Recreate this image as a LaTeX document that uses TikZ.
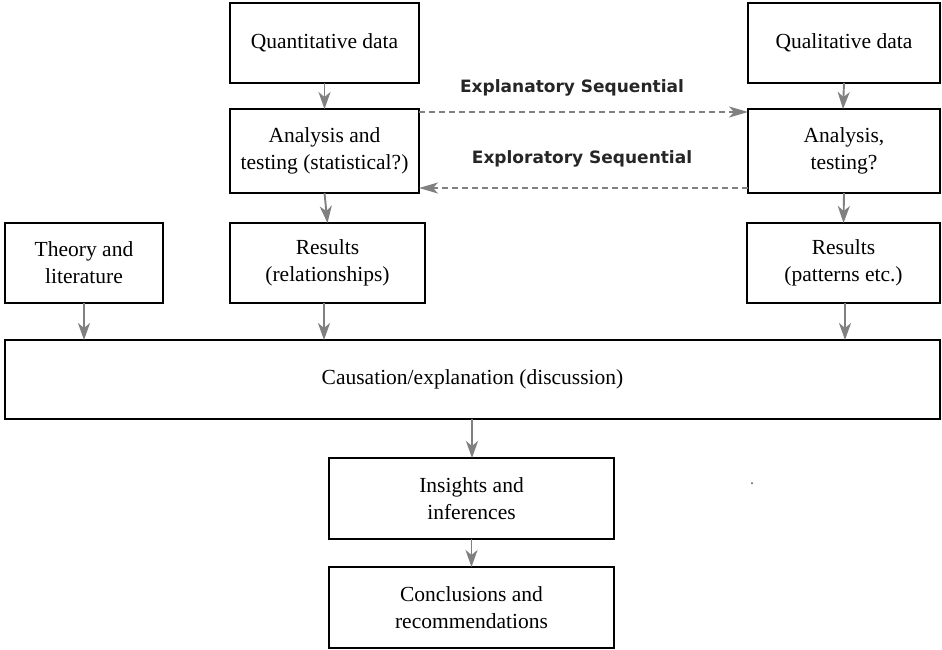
\documentclass[tikz,border=0pt]{standalone}
\usepackage{fontspec}
\setmainfont{Liberation Serif}
\newfontfamily\labelfont{DejaVu Sans}
\usetikzlibrary{arrows.meta}
\begin{document}
\begin{tikzpicture}[x=1pt,y=-1pt,
  flow/.style={draw=gray,line width=1.9pt,-{Stealth[length=17pt,width=12pt,inset=5pt]}},
  seq/.style={draw=gray,line width=1.4pt,dash pattern=on 6pt off 4pt,-{Stealth[length=19pt,width=11pt,inset=5pt]}},
  seqlabel/.style={font=\labelfont\bfseries\fontsize{17}{20}\selectfont,text=black!85}]
\useasboundingbox (0,0) rectangle (942,649);
\fill[white] (0,0) rectangle (942,649);
% boxes drawn as rectangles, with text nodes centred on them
\newcommand\boxat[6]{%
  \draw[line width=1.4pt] (#2,#3) rectangle (#4,#5);
  \node[align=center,font=\fontsize{21.5}{27}\selectfont,inner sep=0pt] (#1) at ({(#2+#4)/2},{(#3+#5)/2}) {#6};
  \coordinate (#1-n) at ({(#2+#4)/2},#3);
  \coordinate (#1-s) at ({(#2+#4)/2},#5);}
\boxat{quant}{230}{3}{419}{83}{Quantitative data}
\boxat{qual}{748}{3}{940}{83}{Qualitative data}
\boxat{anaL}{230}{109}{419}{193}{Analysis and\\testing (statistical?)}
\boxat{anaR}{748}{109}{940}{193}{Analysis,\\testing?}
\boxat{theory}{5}{223}{163}{303}{Theory and\\literature}
\boxat{resL}{230}{223}{425}{303}{Results\\(relationships)}
\boxat{resR}{747}{223}{940}{303}{Results\\(patterns etc.)}
\boxat{cause}{5}{340}{940}{419}{Causation/explanation (discussion)}
\boxat{ins}{329}{458}{614}{539}{Insights and\\inferences}
\boxat{concl}{329}{567}{614}{648}{Conclusions and\\recommendations}
% vertical flow arrows
\draw[flow] (quant-s) -- (anaL-n);
\draw[flow] (qual-s) -- ([xshift=-1pt]anaR-n);
\draw[flow] (anaL-s) -- (resL-n);
\draw[flow] (anaR-s) -- (resR-n);
\coordinate (c1) at (84,340);
\coordinate (c2) at (324,340);
\coordinate (c3) at (845,340);
\draw[flow] (theory-s) -- (c1);
\draw[flow] ([xshift=-3.5pt]resL-s) -- (c2);
\draw[flow] ([xshift=1.5pt]resR-s) -- (c3);
\coordinate (c4) at (472,419);
\draw[flow] (c4) -- (472,458) coordinate (ins-top);
\draw[flow] (ins-s) -- (concl-n);
% sequential design links
\coordinate (eL) at (419,112);
\coordinate (eR) at (748,112);
\coordinate (xR) at (748,188);
\coordinate (xL) at (419,188);
\draw[seq] (eL) -- (eR);
\draw[seq] (xR) -- (xL);
\node[seqlabel] (expl) at (572,88) {Explanatory Sequential};
\node[seqlabel] (expo) at (582,159) {Exploratory Sequential};
% small speck
\fill[black!70] (752,483) circle (1pt);
\end{tikzpicture}
\end{document}
